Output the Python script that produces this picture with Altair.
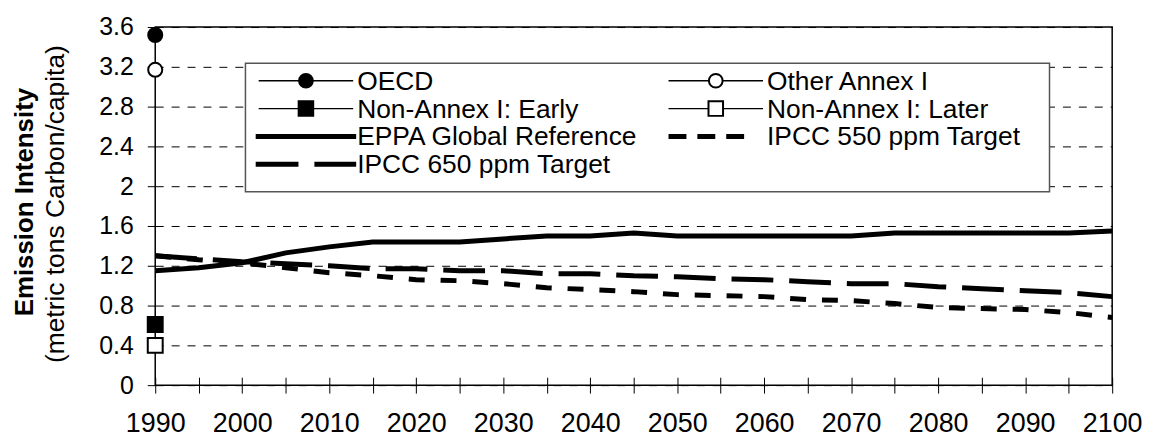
import altair as alt
import pandas as pd

# ---- data -------------------------------------------------------------
years = list(range(1990, 2101, 5))
eppa_ref = [1.15, 1.18, 1.23, 1.33, 1.39, 1.44, 1.44, 1.44, 1.47, 1.50, 1.50, 1.53,
            1.50, 1.50, 1.50, 1.50, 1.50, 1.53, 1.53, 1.53, 1.53, 1.53, 1.55]
ipcc_650 = [1.30, 1.27, 1.24, 1.22, 1.20, 1.17, 1.17, 1.15, 1.15, 1.12, 1.12, 1.10,
            1.09, 1.07, 1.06, 1.04, 1.02, 1.02, 0.99, 0.97, 0.95, 0.93, 0.89]
ipcc_550 = [1.30, 1.26, 1.23, 1.18, 1.13, 1.10, 1.06, 1.05, 1.02, 0.98, 0.96, 0.94,
            0.91, 0.90, 0.89, 0.86, 0.85, 0.82, 0.78, 0.77, 0.76, 0.73, 0.68]

region_names = ["OECD", "Other Annex I", "Non-Annex I: Early", "Non-Annex I: Later"]
region_years = [1990, 1990, 1990, 1990]
region_values = [3.52, 3.17, 0.61, 0.40]

series_names = ["EPPA Global Reference", "IPCC 550 ppm Target", "IPCC 650 ppm Target"]

y_ticks = [0, 0.4, 0.8, 1.2, 1.6, 2, 2.4, 2.8, 3.2, 3.6]
y_title = "Emission Intensity"
y_subtitle = "(metric tons Carbon/capita)"

# ---- styles -------------------------------------------------------------
FONT = "Liberation Sans"
region_shapes = ["circle", "circle", "square", "square"]
region_fills = ["black", "white", "black", "white"]
region_sizes = [200, 200, 225, 225]
series_dash = [None, [16, 16], [42, 16]]
legend_dash = [None, [18, 11], [43, 16]]

W, H = 962, 360

lines_df = pd.DataFrame({
    "year": years * 3,
    "value": eppa_ref + ipcc_550 + ipcc_650,
    "series": [series_names[0]] * len(years) + [series_names[1]] * len(years) + [series_names[2]] * len(years),
})
regions_df = pd.DataFrame({"year": region_years, "value": region_values, "name": region_names})

x_scale = alt.Scale(domain=[1990, 2100], nice=False, zero=False)
y_scale = alt.Scale(domain=[0, 3.6], nice=False, zero=True)

x_axis = alt.Axis(values=years, format="d",
                  labelExpr="datum.value % 10 == 0 ? datum.label : ''",
                  tickSize=16, offset=-8, domain=False, grid=False,
                  labelPadding=18, labelFontSize=27, labelFont=FONT,
                  labelColor="black", tickColor="black", tickWidth=1, title=None,
                  labelFlush=False, labelOverlap=False)
y_axis = alt.Axis(values=y_ticks, format="~g", grid=True, gridDash=[8, 8], gridColor="black",
                  gridWidth=1, gridOpacity=1, tickSize=8, domain=False,
                  labelPadding=14, labelFontSize=25, labelFont=FONT,
                  labelColor="black", tickColor="black", tickWidth=1, title=None,
                  labelFlush=False, labelOverlap=False)

X = alt.X("year:Q", scale=x_scale, axis=x_axis)
Y = alt.Y("value:Q", scale=y_scale, axis=y_axis)

layers = []
for i, name in enumerate(series_names):
    kw = dict(color="black", strokeWidth=5, strokeCap="butt")
    if series_dash[i] is not None:
        kw["strokeDash"] = series_dash[i]
    layers.append(
        alt.Chart(lines_df[lines_df.series == name]).mark_line(**kw).encode(x=X, y=Y)
    )

# legend box
one = pd.DataFrame({"k": [0]})
BOX_L, BOX_R, BOX_T, BOX_B = 90.7, 899, 36.3, 165.7
layers.append(
    alt.Chart(one).mark_rect(fill="white", stroke="#555555", strokeWidth=1.5).encode(
        x=alt.value(BOX_L), x2=alt.value(BOX_R), y=alt.value(BOX_T), y2=alt.value(BOX_B))
)

# legend entries: (kind, index, label, col, row)
legend_items = []
for i, n in enumerate(region_names):
    legend_items.append(("region", i, n, i % 2, i // 2))
legend_items.append(("series", 0, series_names[0], 0, 2))
legend_items.append(("series", 1, series_names[1], 1, 2))
legend_items.append(("series", 2, series_names[2], 0, 3))

ROW0, ROWH = 54, 28
COL0, COLW = 104, 412
for kind, idx, label, col, row in legend_items:
    y = ROW0 + row * ROWH
    x0 = COL0 + col * COLW
    x1 = x0 + 95
    if kind == "region":
        layers.append(alt.Chart(one).mark_rule(color="black", strokeWidth=1.3).encode(
            x=alt.value(x0), x2=alt.value(x1), y=alt.value(y)))
        layers.append(alt.Chart(one).mark_point(
            shape=region_shapes[idx], filled=True, fill=region_fills[idx], stroke="black",
            strokeWidth=2, opacity=1, size=region_sizes[idx] * 0.95).encode(
            x=alt.value((x0 + x1) / 2), y=alt.value(y)))
    else:
        kw = dict(color="black", strokeWidth=5, strokeCap="butt")
        if legend_dash[idx] is not None:
            kw["strokeDash"] = legend_dash[idx]
        xa, xb = x0 - 3, x1 + 3
        if idx == 1:
            xa, xb = x0, x0 + 76
        layers.append(alt.Chart(one).mark_rule(**kw).encode(
            x=alt.value(xa), x2=alt.value(xb), y=alt.value(y)))
    layers.append(alt.Chart(pd.DataFrame({"t": [label]})).mark_text(
        align="left", baseline="middle", font=FONT, fontSize=26.5, color="black").encode(
        x=alt.value(x1 + 4), y=alt.value(y + 1), text="t:N"))

# region markers at 1990
for i, n in enumerate(region_names):
    layers.append(
        alt.Chart(regions_df[regions_df.name == n]).mark_point(
            shape=region_shapes[i], filled=True, fill=region_fills[i], stroke="black",
            strokeWidth=2, opacity=1, size=region_sizes[i]).encode(x=X, y=Y)
    )

# y-axis titles
layers.append(alt.Chart(pd.DataFrame({"t": [y_title]})).mark_text(
    angle=270, align="center", baseline="middle", font=FONT, fontSize=26,
    fontWeight="bold", color="black").encode(
    x=alt.value(-131), y=alt.value(176), text="t:N"))
layers.append(alt.Chart(pd.DataFrame({"t": [y_subtitle]})).mark_text(
    angle=270, align="center", baseline="middle", font=FONT, fontSize=26.5,
    color="black").encode(
    x=alt.value(-100), y=alt.value(178), text="t:N"))

chart = alt.layer(*layers).properties(
    width=W, height=H,
    autosize=alt.AutoSizeParams(type="none"),
    padding={"left": 148, "top": 18, "right": 35, "bottom": 54},
    background="white",
).configure_view(stroke="black", strokeWidth=1.5)

chart.save("out.html", embed_options={"renderer": "svg", "actions": False})
